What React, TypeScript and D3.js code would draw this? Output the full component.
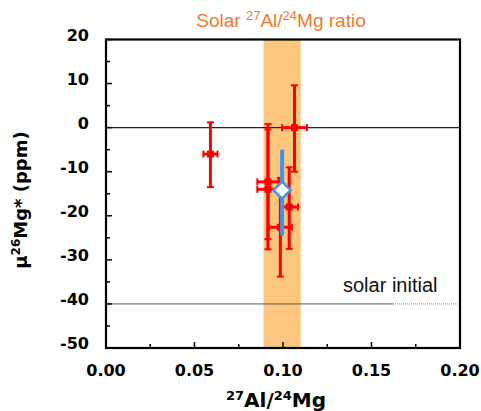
import React, { useRef, useEffect } from 'react';
import * as d3 from 'd3';

// data
const ratioX = [0.059, 0.0915, 0.0915, 0.0985, 0.1035, 0.1065];
const muY = [-6, -12.3, -14, -22.6, -18, 0];
const ratioErr = [0.004, 0.006, 0.006, 0.0065, 0.005, 0.007];
const muErrUp = [7.2, 13.1, 13.6, 11.2, 9, 9.6];
const muErrDown = [7.5, 13, 13.6, 11.2, 9.5, 10];

const meanX = [0.0995];
const meanY = [-14.2];
const meanErrUp = [9.2];
const meanErrDown = [10.3];

const solarBand = [0.089, 0.11];
const solarInitial = -40;

const xTicks = [0, 0.05, 0.1, 0.15, 0.2];
const yTicks = [20, 10, 0, -10, -20, -30, -40, -50];

const W = 481;
const H = 411;

const App = () => {
  const ref = useRef<SVGSVGElement | null>(null);

  useEffect(() => {
    document.body.style.margin = '0';
    const svg = d3.select(ref.current);
    svg.selectAll('*').remove();

    const left = 106, right = 460, top = 39.5, bottom = 348;
    const x = d3.scaleLinear().domain([0, 0.2]).range([left, right]);
    const y = d3.scaleLinear().domain([-50, 20]).range([bottom, top]);

    // solar ratio band
    svg.append('rect')
      .attr('x', x(solarBand[0]))
      .attr('y', top)
      .attr('width', x(solarBand[1]) - x(solarBand[0]))
      .attr('height', bottom - top)
      .attr('fill', '#fcc67e');

    // zero line
    svg.append('line')
      .attr('x1', left).attr('x2', right)
      .attr('y1', y(0)).attr('y2', y(0))
      .attr('stroke', '#222').attr('stroke-width', 1.3);

    // solar initial line (solid then dotted)
    svg.append('line')
      .attr('x1', left).attr('x2', 393)
      .attr('y1', y(solarInitial)).attr('y2', y(solarInitial))
      .attr('stroke', '#555').attr('stroke-width', 1);
    svg.append('line')
      .attr('x1', 393).attr('x2', right)
      .attr('y1', y(solarInitial)).attr('y2', y(solarInitial))
      .attr('stroke', '#888').attr('stroke-width', 1)
      .attr('stroke-dasharray', '1,1');

    svg.append('text')
      .attr('x', 343).attr('y', 292)
      .style('font-family', 'Liberation Sans, Arial, sans-serif')
      .style('font-size', '20px')
      .attr('fill', '#111')
      .text('solar initial');

    // red error bars
    const red = '#ff0000';
    const g = svg.append('g');
    ratioX.forEach((rx, i) => {
      const cx = x(rx), cy = y(muY[i]);
      const y1 = y(muY[i] + muErrUp[i]), y2 = y(muY[i] - muErrDown[i]);
      const x1 = x(rx - ratioErr[i]), x2 = x(rx + ratioErr[i]);
      g.append('line').attr('x1', cx).attr('x2', cx).attr('y1', y1).attr('y2', y2)
        .attr('stroke', red).attr('stroke-width', 3);
      g.append('line').attr('x1', cx - 3.5).attr('x2', cx + 3.5).attr('y1', y1).attr('y2', y1)
        .attr('stroke', red).attr('stroke-width', 2);
      g.append('line').attr('x1', cx - 3.5).attr('x2', cx + 3.5).attr('y1', y2).attr('y2', y2)
        .attr('stroke', red).attr('stroke-width', 2);
      g.append('line').attr('x1', x1).attr('x2', x2).attr('y1', cy).attr('y2', cy)
        .attr('stroke', red).attr('stroke-width', 3);
      g.append('line').attr('x1', x1).attr('x2', x1).attr('y1', cy - 3.5).attr('y2', cy + 3.5)
        .attr('stroke', red).attr('stroke-width', 2);
      g.append('line').attr('x1', x2).attr('x2', x2).attr('y1', cy - 3.5).attr('y2', cy + 3.5)
        .attr('stroke', red).attr('stroke-width', 2);
      g.append('rect').attr('x', cx - 3.5).attr('y', cy - 3.5).attr('width', 7).attr('height', 7)
        .attr('fill', red);
    });

    // blue weighted mean
    const blue = '#3f95e6';
    meanX.forEach((mx, i) => {
      const cx = x(mx), cy = y(meanY[i]);
      svg.append('line')
        .attr('x1', cx).attr('x2', cx)
        .attr('y1', y(meanY[i] + meanErrUp[i])).attr('y2', y(meanY[i] - meanErrDown[i]))
        .attr('stroke', blue).attr('stroke-width', 4);
      const s = 8.5;
      svg.append('path')
        .attr('d', `M${cx},${cy - s}L${cx + s},${cy}L${cx},${cy + s}L${cx - s},${cy}Z`)
        .attr('fill', '#fff').attr('stroke', blue).attr('stroke-width', 2.5);
    });

    // ticks (inside)
    const axisG = svg.append('g').attr('stroke', '#000').attr('stroke-width', 1.5);
    d3.range(-50, 20.01, 5).forEach(v => {
      const major = v % 10 === 0;
      axisG.append('line').attr('x1', left).attr('x2', left + (major ? 6 : 4))
        .attr('y1', y(v)).attr('y2', y(v));
    });
    d3.range(0, 0.2001, 0.025).forEach(v => {
      const major = Math.round(v * 1000) % 50 === 0;
      axisG.append('line').attr('x1', x(v)).attr('x2', x(v))
        .attr('y1', bottom).attr('y2', bottom - (major ? 6 : 4));
    });

    // frame
    svg.append('rect')
      .attr('x', left).attr('y', top)
      .attr('width', right - left).attr('height', bottom - top)
      .attr('fill', 'none').attr('stroke', '#000').attr('stroke-width', 2.2);

    const tickFont = 'DejaVu Sans, Verdana, sans-serif';
    svg.selectAll('.ytick').data(yTicks).enter().append('text')
      .attr('x', 89).attr('y', d => y(d) + 1)
      .attr('text-anchor', 'end')
      .style('font-family', tickFont).style('font-weight', 'bold').style('font-size', '16px')
      .text(d => d);

    svg.selectAll('.xtick').data(xTicks).enter().append('text')
      .attr('x', d => x(d)).attr('y', 376)
      .attr('text-anchor', 'middle')
      .style('font-family', tickFont).style('font-weight', 'bold').style('font-size', '16px')
      .text(d => d3.format('.2f')(d));

    // x label
    const xl = svg.append('text')
      .attr('x', 276).attr('y', 407)
      .attr('text-anchor', 'middle')
      .style('font-family', tickFont).style('font-weight', 'bold').style('font-size', '20px');
    xl.append('tspan').attr('baseline-shift', 'super').style('font-size', '13px').text('27');
    xl.append('tspan').text('Al/');
    xl.append('tspan').attr('baseline-shift', 'super').style('font-size', '13px').text('24');
    xl.append('tspan').text('Mg');

    // y label
    const yl = svg.append('text')
      .attr('transform', 'translate(27,200) rotate(-90)')
      .attr('text-anchor', 'middle')
      .style('font-family', tickFont).style('font-weight', 'bold').style('font-size', '18px');
    yl.append('tspan').text('μ');
    yl.append('tspan').attr('baseline-shift', 'super').style('font-size', '12px').text('26');
    yl.append('tspan').text('Mg*  (ppm)');

    // band title
    const t = svg.append('text')
      .attr('x', 281).attr('y', 27)
      .attr('text-anchor', 'middle')
      .attr('fill', '#f07a2c')
      .style('font-family', 'Liberation Sans, Arial, sans-serif').style('font-size', '19px');
    t.append('tspan').text('Solar ');
    t.append('tspan').attr('baseline-shift', 'super').style('font-size', '13px').text('27');
    t.append('tspan').text('Al/');
    t.append('tspan').attr('baseline-shift', 'super').style('font-size', '13px').text('24');
    t.append('tspan').text('Mg ratio');
  }, []);

  return <svg ref={ref} width={W} height={H} style={{ display: 'block', background: '#fff' }} />;
};

export default App;
